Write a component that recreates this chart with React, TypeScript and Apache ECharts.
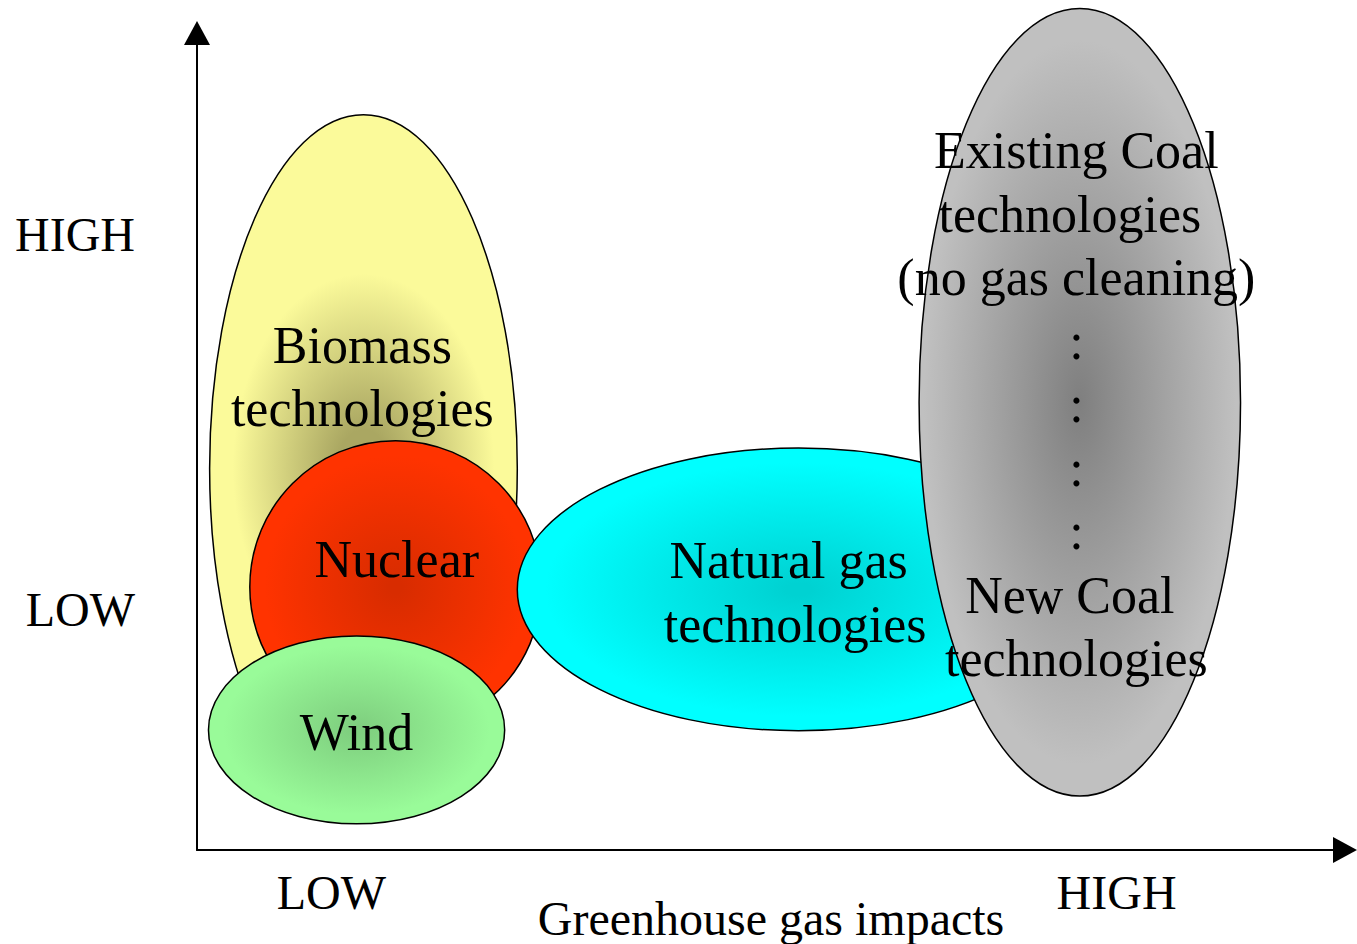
import React, { useEffect, useRef } from 'react';
import * as echarts from 'echarts';

// Axis ticks (qualitative levels) and axis title
const xTickValues = [11.7, 80.1];
const xTickLabels = ['LOW', 'HIGH'];
const yTickValues = [29.4, 75.3];
const yTickLabels = ['LOW', 'HIGH'];
const xAxisName = 'Greenhouse gas impacts';

// Technology regions (ellipses) in data units (0..100 on both axes)
const techNames = ['Biomass', 'Nuclear', 'Wind', 'Natural gas', 'Coal'];
const centerX = [14.5, 17.3, 13.9, 52.4, 76.9];
const centerY = [46.7, 32.2, 14.7, 31.9, 54.8];
const radiusX = [13.4, 12.7, 12.9, 24.5, 14.0];
const radiusY = [43.3, 17.9, 11.5, 17.3, 48.2];
const edgeColors = ['#fbfa9a', '#ff3300', '#99fb99', '#00ffff', '#c0c0c0'];
const coreColors = ['#aaa762', '#d82c00', '#7fcf7f', '#00d2d2', '#7f7f7f'];
// relative extent of the shaded core, horizontally / vertically
const glowX = [0.85, 0.9, 0.9, 0.9, 0.97];
const glowY = [0.55, 0.9, 0.9, 0.9, 0.92];
const coreStop = [0.2, 0.05, 0.05, 0.05, 0.0];

// Region labels
const labelTexts = [
  'Biomass\ntechnologies',
  'Nuclear',
  'Wind',
  'Natural gas \ntechnologies',
  'Existing Coal\ntechnologies \n(no gas cleaning)\n:\n:\n:\n:\nNew Coal \ntechnologies',
];
const labelX = [14.4, 17.4, 13.9, 52.1, 76.6];
const labelY = [57.9, 35.5, 14.4, 31.5, 54.5];

const FONT = '"Liberation Serif", "Times New Roman", serif';

export default function App() {
  const ref = useRef<HTMLDivElement>(null);

  useEffect(() => {
    if (!ref.current) return;
    const chart = echarts.init(ref.current, null, { renderer: 'svg' });

    const ellipseData = techNames.map((n, i) => ({
      name: n,
      value: [centerX[i], centerY[i], radiusX[i], radiusY[i]],
    }));
    const labelData = labelTexts.map((t, i) => ({ name: t, value: [labelX[i], labelY[i]] }));

    const axisLine = (sym: [number, number]) => ({
      show: true,
      symbol: ['none', 'triangle'],
      symbolSize: sym,
      lineStyle: { color: '#000', width: 2 },
    });

    chart.setOption({
      animation: false,
      backgroundColor: '#fff',
      grid: {
        left: 197,
        top: 33,
        width: 1148,
        height: 817,
        containLabel: false,
        outerBoundsMode: 'none',
      },
      xAxis: {
        type: 'value',
        min: 0,
        max: 100,
        axisLine: axisLine([26, 24]),
        axisTick: { show: false },
        splitLine: { show: false },
        axisLabel: {
          customValues: xTickValues,
          formatter: (v: number) => xTickLabels[xTickValues.indexOf(v)] ?? '',
          color: '#000',
          fontSize: 48,
          fontFamily: FONT,
          margin: 18,
        },
        name: xAxisName,
        nameLocation: 'middle',
        nameGap: 44,
        nameMoveOverlap: false,
        nameTextStyle: { color: '#000', fontSize: 48, fontFamily: FONT, verticalAlign: 'top' },
      },
      yAxis: {
        type: 'value',
        min: 0,
        max: 100,
        axisLine: axisLine([26, 24]),
        axisTick: { show: false },
        splitLine: { show: false },
        axisLabel: {
          customValues: yTickValues,
          formatter: (v: number) => yTickLabels[yTickValues.indexOf(v)] ?? '',
          color: '#000',
          fontSize: 48,
          fontFamily: FONT,
          margin: 62,
        },
      },
      series: [
        {
          type: 'custom',
          silent: true,
          z: 2,
          clip: false,
          data: ellipseData,
          renderItem: (params: any, api: any) => {
            const i = params.dataIndex;
            const c = api.coord([api.value(0), api.value(1)]);
            const s = api.size([api.value(2), api.value(3)]);
            return {
              type: 'group',
              children: [
                {
                  type: 'ellipse',
                  shape: { cx: c[0], cy: c[1], rx: s[0], ry: s[1] },
                  style: { fill: edgeColors[i], stroke: '#000', lineWidth: 1.5 },
                },
                {
                  type: 'ellipse',
                  shape: { cx: c[0], cy: c[1], rx: s[0] * glowX[i], ry: s[1] * glowY[i] },
                  style: {
                    fill: {
                      type: 'radial',
                      x: 0.5,
                      y: 0.5,
                      r: 0.5,
                      colorStops: [
                        { offset: 0, color: coreColors[i] },
                        { offset: coreStop[i], color: coreColors[i] },
                        { offset: 1, color: edgeColors[i] },
                      ],
                    },
                  },
                },
              ],
            };
          },
        },
        {
          type: 'custom',
          silent: true,
          z: 5,
          clip: false,
          data: labelData,
          renderItem: (params: any, api: any) => {
            const i = params.dataIndex;
            const c = api.coord([api.value(0), api.value(1)]);
            return {
              type: 'text',
              x: c[0],
              y: c[1],
              style: {
                text: labelTexts[i],
                fill: '#000',
                fontSize: 52,
                fontFamily: FONT,
                align: 'center',
                verticalAlign: 'middle',
                lineHeight: 63.5,
              },
            };
          },
        },
      ],
    });

    return () => chart.dispose();
  }, []);

  return (
    <div
      ref={ref}
      style={{ position: 'fixed', left: 0, top: 0, width: 1357, height: 944, background: '#fff' }}
    />
  );
}
